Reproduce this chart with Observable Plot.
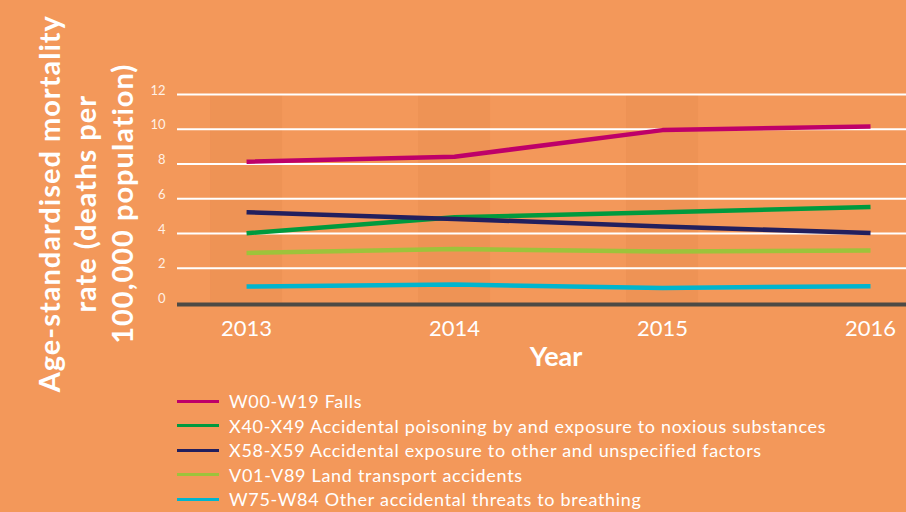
<!DOCTYPE html>
<html>
<head>
<meta charset="utf-8">
<script src="https://cdn.jsdelivr.net/npm/d3@7"></script>
<script src="https://cdn.jsdelivr.net/npm/@observablehq/plot@0.6"></script>
<style>
  html, body { margin: 0; padding: 0; }
  body { width: 906px; height: 512px; background: #F3985A; position: relative; overflow: hidden; font-family: Lato, "Open Sans", sans-serif; }
  #chart { position: absolute; left: 0; top: 0; }
  #legend { position: absolute; left: 177px; top: 389px; color: #fff; font-size: 18px; letter-spacing: 0.7px; }
  .row { display: flex; align-items: center; height: 24.5px; white-space: nowrap; }
  .sw { width: 42px; height: 3px; margin-right: 10px; }
</style>
</head>
<body>
<div id="chart"></div>
<div id="legend"></div>
<script>
const years = [2013, 2014, 2015, 2016];
const seriesNames = [
  "W00-W19 Falls",
  "X40-X49 Accidental poisoning by and exposure to noxious substances",
  "X58-X59 Accidental exposure to other and unspecified factors",
  "V01-V89 Land transport accidents",
  "W75-W84 Other accidental threats to breathing"
];
const falls     = [8.13, 8.42, 9.95, 10.16];
const poisoning = [4.01, 4.93, 5.22, 5.53];
const exposure  = [5.22, 4.84, 4.40, 4.03];
const transport = [2.88, 3.11, 2.96, 3.02];
const breathing = [0.95, 1.06, 0.87, 0.97];
const seriesColors = ["#BE0069", "#009A3E", "#221F5E", "#9DC33B", "#00B5CE"];
const shadedYears = [2013, 2014, 2015];
const yTicks = [0, 2, 4, 6, 8, 10, 12];
const yTitle = "Age-standardised mortality\nrate (deaths per\n100,000 population)";
const xTitle = "Year";

const allValues = [falls, poisoning, exposure, transport, breathing];
const data = [];
seriesNames.forEach((name, i) => {
  years.forEach((yr, j) => data.push({series: name, year: yr, value: allValues[i][j]}));
});

const chart = Plot.plot({
  width: 906,
  height: 386,
  marginLeft: 177,
  marginRight: 0,
  marginTop: 94,
  marginBottom: 83.5,
  style: { background: "transparent", fontFamily: "Lato, 'Open Sans', sans-serif", overflow: "visible" },
  x: { type: "linear", domain: [2012.668, 2016.173], axis: null },
  y: { domain: [0, 12], axis: null },
  color: { domain: seriesNames, range: seriesColors },
  marks: [
    Plot.rectX(shadedYears, { x1: d => d - 0.173, x2: d => d + 0.173, y1: 0, y2: 12, fill: "#E48A4C", fillOpacity: 0.35 }),
    Plot.ruleY(yTicks.filter(d => d > 0), { stroke: "#FFFFFF", strokeWidth: 2.2 }),
    Plot.ruleY([0], { stroke: "#4D4A45", strokeWidth: 4, dy: 1.5 }),
    Plot.axisY({ ticks: yTicks, tickSize: 0, tickPadding: 12, fontSize: 13, dy: -4, color: "#FFF1E6", label: null }),
    Plot.axisX({ ticks: years, tickFormat: d => String(d), tickSize: 0, tickPadding: 17, fontSize: 22, color: "#FFFFFF", label: null }),
    Plot.line(data, { x: "year", y: "value", z: "series", stroke: "series", strokeWidth: 4.5, strokeLinecap: "butt", strokeLinejoin: "round" }),
    Plot.text([xTitle], { frameAnchor: "bottom", dy: 63, dx: 14, fontSize: 27, fontWeight: 700, fill: "#FFFFFF" }),
    Plot.text([yTitle], { frameAnchor: "left", textAnchor: "middle", lineAnchor: "middle", rotate: -90, dx: -93, dy: 5, fontSize: 29, fontWeight: 700, lineHeight: 1.26, fill: "#FFFFFF", style: "letter-spacing: 1px" })
  ]
});
document.getElementById("chart").appendChild(chart);
chart.querySelectorAll("text").forEach(t => { if (t.textContent.startsWith("Age-")) t.parentNode.setAttribute("letter-spacing", "1"); });

const legend = document.getElementById("legend");
seriesNames.forEach((name, i) => {
  const row = document.createElement("div");
  row.className = "row";
  const sw = document.createElement("div");
  sw.className = "sw";
  sw.style.background = seriesColors[i];
  const label = document.createElement("span");
  label.textContent = name;
  row.appendChild(sw);
  row.appendChild(label);
  legend.appendChild(row);
});
</script>
</body>
</html>
